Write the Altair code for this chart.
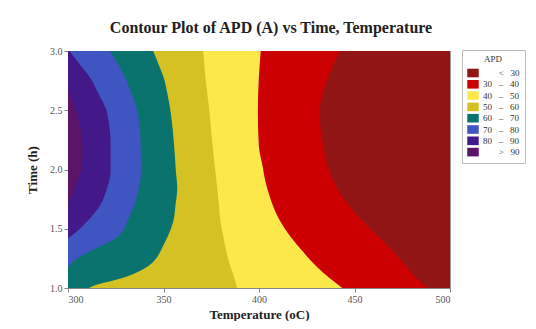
import altair as alt
import pandas as pd

NB = "\u00a0"
ZW = "\u200b"

# legend categories (APD bands) and their colours
bands = ["< 30", "30 – 40", "40 – 50", "50 – 60", "60 – 70", "70 – 80", "80 – 90", "> 90"]
band_labels = [ZW + NB * 7 + "<" + NB * 3 + "30",
               "30" + NB * 3 + "–" + NB * 3 + "40",
               "40" + NB * 3 + "–" + NB * 3 + "50",
               "50" + NB * 3 + "–" + NB * 3 + "60",
               "60" + NB * 3 + "–" + NB * 3 + "70",
               "70" + NB * 3 + "–" + NB * 3 + "80",
               "80" + NB * 3 + "–" + NB * 3 + "90",
               ZW + NB * 7 + ">" + NB * 3 + "90"]
colors = ["#921515", "#cc0000", "#fde84a", "#d4c123", "#0a736e", "#3f56c2", "#43198a", "#5a1468"]

# right-hand edge (temperature, oC) of each band read at several times (h)
t_lt30 = [1.0, 3.0]
T_lt30 = [500.0, 500.0]

t_30_40 = [1.0, 1.078, 1.19, 1.331, 1.471, 1.612, 1.753, 1.894, 2.06, 2.20, 2.345, 2.485, 2.63, 2.77, 2.88, 3.0]
T_30_40 = [488.1, 482.8, 476.7, 468.8, 460.1, 451.4, 444.4, 439.2, 435.3, 433.6, 432.2, 431.8, 433.1, 436.0, 438.8, 442.2]

t_40_50 = [1.0, 1.078, 1.19, 1.331, 1.471, 1.612, 1.753, 1.894, 2.02, 2.20, 2.485, 2.77, 3.0]
T_40_50 = [443.6, 437.4, 429.6, 421.7, 414.8, 409.5, 406.0, 403.4, 402.0, 399.9, 399.4, 399.9, 400.9]

t_50_60 = [1.0, 1.114, 1.226, 1.34, 1.452, 1.562, 1.703, 1.843, 1.98, 2.235, 2.51, 2.77, 3.0]
T_50_60 = [388.6, 386.5, 384.2, 382.5, 381.1, 379.8, 379.0, 378.1, 377.2, 375.5, 373.9, 372.0, 370.8]

t_60_70 = [1.0, 1.03, 1.057, 1.114, 1.17, 1.226, 1.283, 1.34, 1.395, 1.45, 1.562, 1.703, 1.843, 1.98, 2.235, 2.51, 2.65, 2.77, 2.88, 3.0]
T_60_70 = [310.9, 315.3, 322.3, 333.6, 340.6, 344.9, 347.5, 349.3, 351.0, 352.6, 355.1, 356.3, 357.2, 356.5, 355.4, 353.5, 351.9, 350.2, 347.6, 344.6]

t_70_80 = [1.17, 1.226, 1.283, 1.34, 1.395, 1.45, 1.562, 1.703, 1.843, 1.98, 2.235, 2.51, 2.65, 2.77, 2.88, 3.0]
T_70_80 = [300.0, 303.0, 308.3, 315.3, 322.3, 327.2, 331.0, 334.8, 337.1, 338.3, 338.0, 336.0, 333.0, 330.1, 326.6, 321.9]

t_80_90 = [1.42, 1.45, 1.562, 1.703, 1.843, 1.98, 2.235, 2.38, 2.51, 2.65, 2.77, 2.88, 3.0]
T_80_90 = [300.0, 302.5, 310.0, 317.0, 320.5, 322.3, 322.3, 321.5, 319.9, 315.6, 311.8, 306.5, 300.8]

t_gt90 = [1.72, 1.8, 1.9, 2.0, 2.1, 2.2, 2.3, 2.4, 2.5, 2.6, 2.67]
T_gt90 = [300.0, 302.5, 305.0, 306.8, 307.6, 307.6, 307.0, 305.8, 304.0, 302.0, 300.0]

curves = [(t_lt30, T_lt30), (t_30_40, T_30_40), (t_40_50, T_40_50), (t_50_60, T_50_60),
          (t_60_70, T_60_70), (t_70_80, T_70_80), (t_80_90, T_80_90), (t_gt90, T_gt90)]

rows = []
for lab, (ts, Ts) in zip(band_labels, curves):
    for t, T in zip(ts, Ts):
        rows.append({"band": lab, "time": t, "temp": T})
df = pd.DataFrame(rows)

FONT = "Liberation Serif"
color_scale = alt.Scale(domain=band_labels, range=colors)
xs = alt.Scale(domain=[300, 500], nice=False, zero=False)
ys = alt.Scale(domain=[1, 3], nice=False, zero=False)

layers = []
for i, lab in enumerate(band_labels):
    layers.append(
        alt.Chart(df)
        .transform_filter(alt.datum.band == lab)
        .mark_area(orient="horizontal", interpolate="monotone", clip=True)
        .encode(
            y=alt.Y("time:Q", scale=ys,
                    axis=alt.Axis(title="Time (h)", values=[1.0, 1.5, 2.0, 2.5, 3.0], format=".1f",
                                  titlePadding=10)),
            x=alt.X("temp:Q", scale=xs, stack=None,
                    axis=alt.Axis(title="Temperature (oC)", values=[300, 350, 400, 450, 500], format="d",
                                  titlePadding=4)),
            x2=alt.datum(300),
            color=alt.Color("band:N", scale=color_scale,
                            legend=alt.Legend(title="APD", orient="none", legendX=394, legendY=-1,
                                              symbolType="M-1,-0.75H1V0.75H-1Z", symbolSize=132,
                                              symbolStrokeWidth=0, symbolOpacity=1,
                                              titleAnchor="middle", titleFont=FONT, titleFontSize=9,
                                              titleFontWeight="normal", titleColor="#333",
                                              labelFont=FONT, labelFontSize=9, labelColor="#333",
                                              padding=5, strokeColor="#bbbbbb", fillColor="white",
                                              rowPadding=0.3, titlePadding=3)),
        )
    )

chart = (
    alt.layer(*layers)
    .properties(
        width=382, height=237,
        autosize=alt.AutoSizeParams(type="none"),
        padding={"left": 60, "top": 43, "right": 78, "bottom": 33},
        title=alt.Title("Contour Plot of APD (A) vs Time, Temperature", font=FONT, fontSize=16,
                        fontWeight="bold", color="#222", anchor="middle", dx=12, offset=10),
    )
    .configure_view(stroke="#999999", strokeWidth=1)
    .configure_axis(labelFont=FONT, labelFontSize=10, labelColor="#555", titleFont=FONT,
                    titleFontSize=13, titleFontWeight="bold", titleColor="#222", grid=False,
                    tickColor="#888", domainColor="#888", tickSize=4)
)

chart.save("out.html", embed_options={"renderer": "svg", "actions": False})
